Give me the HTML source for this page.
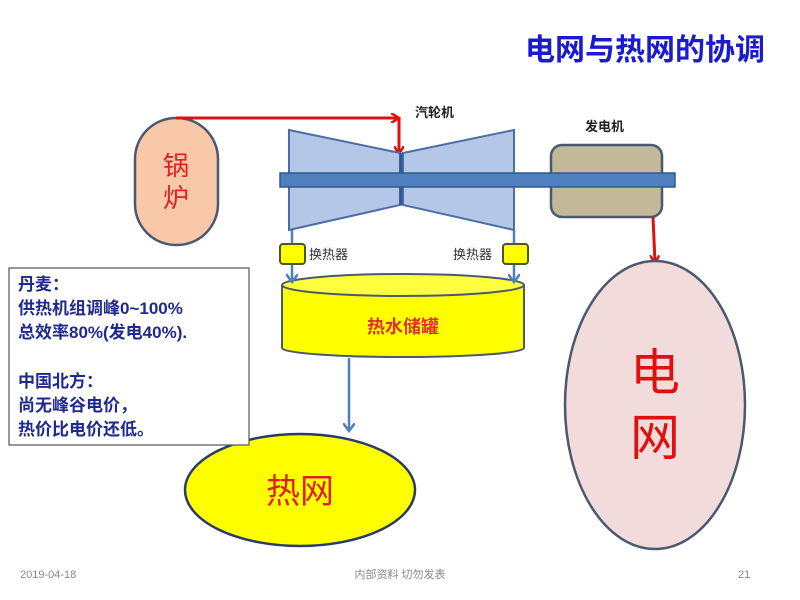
<!DOCTYPE html>
<html><head><meta charset="utf-8"><style>
body{margin:0;background:#fff;}
svg{display:block;font-family:"Liberation Sans","Noto Sans CJK SC",sans-serif;}
</style></head><body>
<svg width="800" height="600" viewBox="0 0 800 600" xmlns="http://www.w3.org/2000/svg">
<defs>
<marker id="ar" markerWidth="10" markerHeight="10" refX="7" refY="5" orient="auto" markerUnits="userSpaceOnUse"><path d="M0,0 L8,5 L0,10" fill="none" stroke="#e01010" stroke-width="2.5"/></marker>
<marker id="ab" markerWidth="12" markerHeight="12" refX="7" refY="6" orient="auto" markerUnits="userSpaceOnUse"><path d="M0,0 L8,6 L0,12" fill="none" stroke="#4f7fbf" stroke-width="2.5"/></marker>
</defs>
<rect width="800" height="600" fill="#fff"/>
<text x="765" y="60" text-anchor="end" font-size="30" font-weight="bold" fill="#1a1ad0">电网与热网的协调</text>

<rect x="135" y="118" width="83" height="127" rx="41" fill="#f8c8a8" stroke="#4a5870" stroke-width="2.5"/>
<text x="176" y="175" text-anchor="middle" font-size="26" fill="#e02020">锅</text>
<text x="176" y="207" text-anchor="middle" font-size="26" fill="#e02020">炉</text>

<polyline points="176,118 398,118" fill="none" stroke="#e01010" stroke-width="3" marker-end="url(#ar)"/>
<line x1="399" y1="118" x2="399" y2="153" stroke="#e01010" stroke-width="3" marker-end="url(#ar)"/>
<text x="415" y="117" font-size="13" font-weight="bold" fill="#222">汽轮机</text>
<text x="585" y="131" font-size="13" font-weight="bold" fill="#222">发电机</text>

<polygon points="289,130 400,153 400,205 289,230" fill="#b4c7e7" stroke="#4a6fa5" stroke-width="2"/>
<polygon points="403,153 514,130 514,230 403,205" fill="#b4c7e7" stroke="#4a6fa5" stroke-width="2"/>
<line x1="401" y1="153" x2="401" y2="205" stroke="#2e5a8e" stroke-width="3"/>

<rect x="551" y="145" width="111" height="72" rx="11" fill="#c4b89a" stroke="#4a5870" stroke-width="2.5"/>
<rect x="280" y="173" width="395" height="14" fill="#4f7fbf" stroke="#2e5a8e" stroke-width="1.5"/>

<line x1="653" y1="217" x2="655" y2="262" stroke="#e01010" stroke-width="3" marker-end="url(#ar)"/>

<path d="M282,285 L282,348 A121,9 0 0 0 524,348 L524,285" fill="#ffff00" stroke="#4a5870" stroke-width="2"/>
<ellipse cx="403" cy="285" rx="121" ry="11" fill="#ffff40" stroke="#4a5870" stroke-width="2"/>
<text x="403" y="333" text-anchor="middle" font-size="18" font-weight="bold" fill="#e03030">热水储罐</text>

<line x1="292" y1="230" x2="292" y2="281" stroke="#4f7fbf" stroke-width="2.5" marker-end="url(#ab)"/>
<line x1="514" y1="230" x2="514" y2="281" stroke="#4f7fbf" stroke-width="2.5" marker-end="url(#ab)"/>
<rect x="280" y="244" width="25" height="20" rx="3" fill="#ffff00" stroke="#4a5830" stroke-width="2"/>
<rect x="503" y="244" width="25" height="20" rx="3" fill="#ffff00" stroke="#4a5830" stroke-width="2"/>
<text x="309" y="259" font-size="13" fill="#333">换热器</text>
<text x="453" y="259" font-size="13" fill="#333">换热器</text>

<line x1="349" y1="358" x2="349" y2="430" stroke="#4f7fbf" stroke-width="2.5" marker-end="url(#ab)"/>

<ellipse cx="300" cy="490" rx="115" ry="56" fill="#ffff00" stroke="#2a3a6a" stroke-width="2.5"/>
<text x="300" y="503" text-anchor="middle" font-size="34" fill="#e02020">热网</text>

<ellipse cx="655" cy="405" rx="90" ry="144" fill="#f2dcdb" stroke="#4a5870" stroke-width="2.5"/>
<text x="655" y="390" text-anchor="middle" font-size="50" fill="#e01010">电</text>
<text x="655" y="455" text-anchor="middle" font-size="50" fill="#e01010">网</text>

<rect x="9" y="268" width="240" height="177" fill="#fff" stroke="#555" stroke-width="1.2"/>
<g font-size="17" fill="#1f2a8f" font-weight="bold">
<text x="18" y="290">丹麦：</text>
<text x="18" y="314">供热机组调峰0~100%</text>
<text x="18" y="338">总效率80%(发电40%).</text>
<text x="18" y="387">中国北方：</text>
<text x="18" y="411">尚无峰谷电价，</text>
<text x="18" y="435">热价比电价还低。</text>
</g>

<g font-size="11" fill="#888">
<text x="20" y="578">2019-04-18</text>
<text x="400" y="578" text-anchor="middle">内部资料 切勿发表</text>
<text x="738" y="578">21</text>
</g>
</svg>
</body></html>
